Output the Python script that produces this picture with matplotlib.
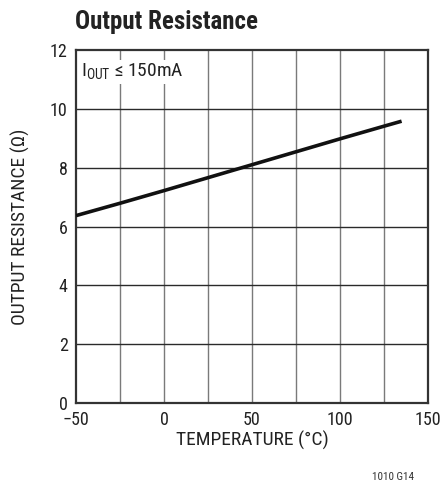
import matplotlib.pyplot as plt
import numpy as np

# curve
temp = [-50, -25, 0, 25, 50, 75, 100, 125, 135]
res = [6.37, 6.79, 7.22, 7.66, 8.10, 8.54, 8.98, 9.41, 9.58]

xticks = [-50, 0, 50, 100, 150]
xlabels = ['\u221250', '0', '50', '100', '150']
yticks = [0, 2, 4, 6, 8, 10, 12]

plt.rcParams['font.family'] = ['Roboto Condensed', 'DejaVu Sans']
plt.rcParams['mathtext.fontset'] = 'custom'
plt.rcParams['mathtext.rm'] = 'Roboto Condensed'

fig = plt.figure(figsize=(4.44, 4.87), dpi=100)
ax = fig.add_axes([76/444, 1-403/487, 352/444, 353/487])

ax.set_xlim(-50, 150)
ax.set_ylim(0, 12)
ax.set_xticks(xticks)
ax.set_xticklabels(xlabels)
ax.set_yticks(yticks)
ax.tick_params(which='both', length=0, labelsize=13, colors='#222222')
ax.tick_params(axis='x', pad=6)
ax.tick_params(axis='y', pad=6)

# grid: vertical gray, horizontal darker
for xv in np.arange(-25, 150, 25):
    ax.axvline(xv, color='#7a7a7a', lw=1.0, zorder=1)
for yv in range(2, 12, 2):
    ax.axhline(yv, color='#2a2a2a', lw=1.0, zorder=1)

for s in ax.spines.values():
    s.set_color('#333333')
    s.set_linewidth(1.6)

ax.plot(temp, res, color='#111111', lw=2.6, zorder=3, solid_capstyle='butt')

ax.text(-47, 11.25, 'I$_{\\mathregular{OUT}}$ \u2264 150mA',
        fontsize=14, va='center', ha='left', color='#222222', zorder=4,
        bbox=dict(facecolor='white', edgecolor='none', pad=1.5))

ax.set_xlabel('TEMPERATURE (\u00b0C)', fontsize=14, color='#222222', labelpad=1)
ax.set_ylabel('OUTPUT RESISTANCE (\u03a9)', fontsize=14, color='#222222', labelpad=14)

fig.text(75/444, 1-29/487, 'Output Resistance', fontsize=18, fontweight='bold',
         color='#222222', ha='left', va='baseline')
fig.text(414/444, 1-480/487, '1010 G14', fontsize=8, color='#333333',
         ha='right', va='baseline')

fig.savefig('out.png', dpi=100)
